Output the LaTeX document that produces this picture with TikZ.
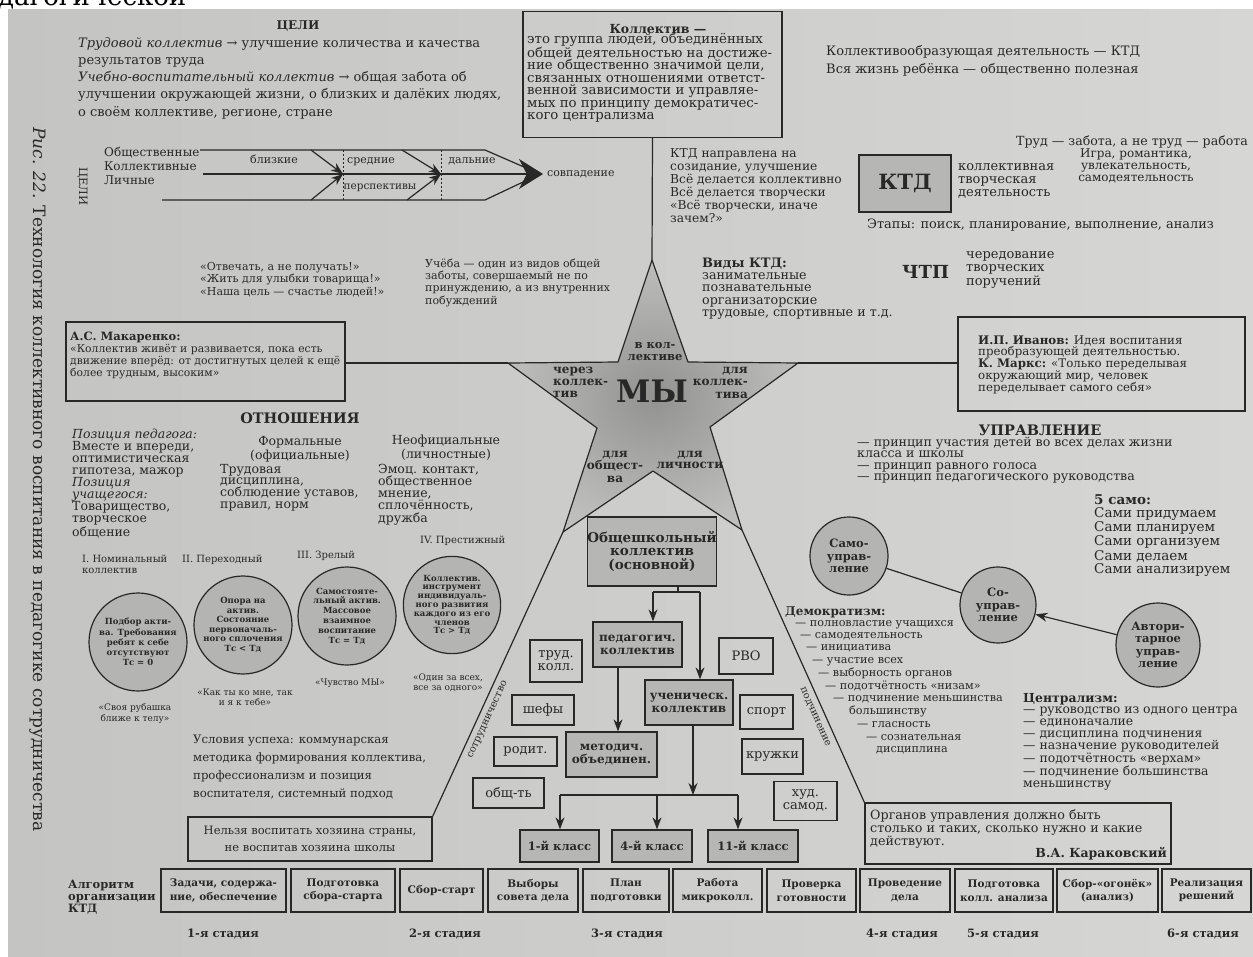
\documentclass[tikz,border=0pt]{standalone}
\usepackage{fontspec}
\setmainfont{DejaVu Serif}
\usetikzlibrary{arrows.meta}

\definecolor{paperA}{RGB}{196,196,194}
\definecolor{paperB}{RGB}{214,214,212}
\definecolor{ink}{RGB}{40,40,40}
\definecolor{starIn}{RGB}{146,146,144}
\definecolor{starOut}{RGB}{190,190,188}
\definecolor{discfill}{RGB}{180,180,178}
\definecolor{boxfill}{RGB}{182,182,180}

\newcommand{\fsz}[2]{\fontsize{#1}{#2}\selectfont}

% multi-line nodes are placed by the baseline of their last line
\tikzset{
  txt/.style={anchor=base west, inner sep=0pt, align=left, text=ink},
  ctr/.style={anchor=base, inner sep=0pt, align=center, text=ink},
  rtx/.style={anchor=base east, inner sep=0pt, align=right, text=ink},
  cbox/.style={draw=ink, line width=1.3pt, inner sep=0pt, align=center, text=ink},
  gbox/.style={cbox, fill=boxfill},
  link/.style={draw=ink, line width=1.2pt},
  arr/.style={link, -{Stealth[length=12pt,width=9pt]}},
  disc/.style={circle, draw=ink, line width=1.2pt, fill=discfill, inner sep=0pt, align=center, text=ink},
  algo/.style={cbox, minimum height=43pt, font=\bfseries\fsz{10.5}{13.5}},
  stage/.style={anchor=base, inner sep=0pt, text=ink, font=\bfseries\fsz{11.5}{12}},
  sidebox/.style={cbox, font=\fsz{13}{13}},
  classbox/.style={gbox, minimum height=32pt, font=\bfseries\fsz{11.5}{12}},
  treebox/.style={gbox, minimum height=45pt, font=\bfseries\fsz{12}{13}},
}

\begin{document}
\begin{tikzpicture}[x=1pt,y=-1pt]
\useasboundingbox (0,0) rectangle (1253,956);

% page
\fill[white] (0,0) rectangle (1253,956);
\shade[left color=paperA, right color=paperB] (8,9) rectangle (1253,956);

% running head, cut by the page edge
\begin{scope}
  \clip (0,0) rectangle (1253,9);
  \node[txt, font=\fsz{26}{26}, text=black] (head) at (-2,5) {дагогической};
\end{scope}

% vertical caption
\node[anchor=base west, rotate=-90, inner sep=0pt, text=ink, font=\fsz{17}{17}] (cap) at (33,127)
  {\textit{Рис. 22.} Технология коллективного воспитания в педагогике сотрудничества};

% ---------------- goals ----------------
\node[ctr, font=\bfseries\fsz{12}{12}] (goalhead) at (298,29) {ЦЕЛИ};
\node[txt, font=\fsz{13}{17.3}] (goals) at (78,116.2)
  {\textit{Трудовой коллектив} → улучшение количества и качества\\
   результатов труда\\
   \textit{Учебно-воспитательный коллектив} → общая забота об\\
   улучшении окружающей жизни, о близких и далёких людях,\\
   о своём коллективе, регионе, стране};

% perspective arrow
\node[anchor=base west, rotate=-90, inner sep=0pt, text=ink, font=\fsz{11.5}{12}] (goalv) at (79,167) {ЦЕЛИ};
\node[txt, font=\fsz{12}{14}] (levels) at (104,184) {Общественные\\Коллективные\\Личные};
\coordinate (ftip) at (540,174);
\draw[link] (200,150) -- (485,150) -- (ftip);
\draw[link] (162,200) -- (485,200) -- (ftip);
\draw[link, -{Stealth[length=24pt,width=30pt]}] (203,174) -- (543,174);
\draw[ink, line width=0.8pt, dash pattern=on 2pt off 2pt] (343,150) -- (343,200);
\draw[ink, line width=0.8pt, dash pattern=on 2pt off 2pt] (441,150) -- (441,200);
\draw[arr] (311,150) -- (343,174);
\draw[arr] (311,200) -- (343,174);
\draw[arr] (402,150) -- (441,174);
\draw[arr] (407,200) -- (441,174);
\node[ctr, font=\fsz{11}{11}] (near) at (274,163) {близкие};
\node[ctr, font=\fsz{11}{11}] (mid) at (371,163) {средние};
\node[ctr, font=\fsz{11}{11}] (far) at (472,163) {дальние};
\node[ctr, font=\fsz{10.5}{11}] (persp) at (380,189) {перспективы};
\node[txt, font=\fsz{11}{11}] (match) at (547,176) {совпадение};

% slogans
\node[txt, font=\fsz{11}{12.5}] (slog) at (200,295)
  {«Отвечать, а не получать!»\\«Жить для улыбки товарища!»\\«Наша цель — счастье людей!»};
\node[txt, font=\fsz{11}{12.4}] (study) at (425,304.2)
  {Учёба — один из видов общей\\заботы, совершаемый не по\\принуждению, а из внутренних\\побуждений};

% ---------------- definition ----------------
\node[cbox, minimum width=259pt, minimum height=126pt] (kol) at (652.5,74.5) {};
\node[ctr, font=\bfseries\fsz{12.5}{12.5}] (koltitle) at (658,33) {Коллектив —};
\node[txt, font=\fsz{13.3}{12.4}] (koltext) at (527,119.4)
  {это группа людей, объединённых\\
   общей деятельностью на достиже-\\
   ние общественно значимой цели,\\
   связанных отношениями ответст-\\
   венной зависимости и управляе-\\
   мых по принципу демократичес-\\
   кого централизма};

% ---------------- KTD ----------------
\node[txt, font=\fsz{13}{18.5}] (ktdform) at (826,73.5)
  {Коллективообразующая деятельность — КТД\\Вся жизнь ребёнка — общественно полезная};
\node[txt, font=\fsz{12.6}{12}] (labour) at (1016,145) {Труд — забота, а не труд — работа};
\node[ctr, font=\fsz{12}{12.3}] (game) at (1136,181.6) {Игра, романтика,\\увлекательность,\\самодеятельность};
\node[gbox, minimum width=92pt, minimum height=57pt, font=\bfseries\fsz{21}{21}] (ktd) at (905,183.5) {КТД};
\node[txt, font=\fsz{13}{13}] (ktdname) at (958,196) {коллективная\\творческая\\деятельность};
\node[txt, font=\fsz{12.9}{12.5}] (ktdstages) at (867,228) {Этапы: поиск, планирование, выполнение, анализ};
\node[txt, font=\fsz{12.2}{13}] (ktdaim) at (670,222)
  {КТД направлена на\\созидание, улучшение\\Всё делается коллективно\\Всё делается творчески\\«Всё творчески, иначе\\зачем?»};
\node[txt, font=\fsz{12.7}{12.4}] (ktdkinds) at (702,316.6)
  {\textbf{\fsz{13}{12.4}Виды КТД:}\\занимательные\\познавательные\\организаторские\\трудовые, спортивные и т.д.};
\node[txt, font=\bfseries\fsz{18}{18}] (chtp) at (902,278) {ЧТП};
\node[txt, font=\fsz{13}{13.5}] (chtptext) at (966,285) {чередование\\творческих\\поручений};

% ---------------- star ----------------
\coordinate (sT) at (652,260);
\coordinate (sIUR) at (688,362);
\coordinate (sR) at (798,363);
\coordinate (sILR) at (710,427);
\coordinate (sLR) at (742,530);
\coordinate (sIB) at (653,471);
\coordinate (sLL) at (563,532);
\coordinate (sILL) at (597,428);
\coordinate (sL) at (508,363);
\coordinate (sIUL) at (618,362);
\shade[inner color=starIn, outer color=starOut]
  (sT) -- (sIUR) -- (sR) -- (sILR) -- (sLR) -- (sIB) -- (sLL) -- (sILL) -- (sL) -- (sIUL) -- cycle;
\draw[link, line join=round]
  (sT) -- (sIUR) -- (sR) -- (sILR) -- (sLR) -- (sIB) -- (sLL) -- (sILL) -- (sL) -- (sIUL) -- cycle;
\node[ctr, font=\bfseries\fsz{11.5}{12}] (sin) at (655,360) {в кол-\\лективе};
\node[txt, font=\bfseries\fsz{12}{12}] (sthrough) at (553,397) {через\\коллек-\\тив};
\node[ctr, font=\bfseries\fsz{31}{31}] (we) at (652,402) {МЫ};
\node[rtx, font=\bfseries\fsz{12}{12.8}] (sfor) at (748,398.6) {для\\коллек-\\тива};
\node[ctr, font=\bfseries\fsz{12}{12.5}] (ssoc) at (615,482) {для\\общест-\\ва};
\node[ctr, font=\bfseries\fsz{12}{11.5}] (spers) at (690,468.5) {для\\личности};

\draw[link] (kol.south) -- (sT);

% ---------------- quotations ----------------
\node[cbox, minimum width=279pt, minimum height=79pt] (mak) at (205.5,361.5) {};
\node[txt, font=\bfseries\fsz{11.5}{12}] (maktitle) at (70,340) {А.С. Макаренко:};
\node[txt, font=\fsz{10.8}{12}] (maktext) at (70,376)
  {«Коллектив живёт и развивается, пока есть\\движение вперёд: от достигнутых целей к ещё\\более трудным, высоким»};
\draw[link] (mak.east |- sL) -- (sL);

\node[cbox, minimum width=287pt, minimum height=94pt] (iva) at (1101.5,364) {};
\node[txt, font=\fsz{11.8}{11.8}] (ivatext) at (978,391.2)
  {\textbf{И.П. Иванов:} Идея воспитания\\преобразующей деятельностью.\\\textbf{К. Маркс:} «Только переделывая\\окружающий мир, человек\\переделывает самого себя»};
\draw[link] (sR) -- (iva.west |- sR);

% ---------------- management ----------------
\node[ctr, font=\bfseries\fsz{14.5}{14.5}] (mgmt) at (1040,435) {УПРАВЛЕНИЕ};
\node[txt, font=\fsz{12.6}{11.6}] (mgmttext) at (857,480.8)
  {— принцип участия детей во всех делах жизни\\класса и школы\\— принцип равного голоса\\— принцип педагогического руководства};

\node[txt, font=\fsz{13.5}{13}] (five) at (1094,573)
  {\textbf{5 само:}\\Сами придумаем\\Сами планируем\\Сами организуем\\Сами делаем\\Сами анализируем};

\node[disc, minimum size=78pt, font=\bfseries\fsz{11.5}{12.5}] (samo) at (849,556) {Само-\\управ-\\ление};
\node[disc, minimum size=76pt, font=\bfseries\fsz{11.5}{12.5}] (so) at (998,605) {Со-\\управ-\\ление};
\node[disc, minimum size=84pt, font=\bfseries\fsz{11.5}{12.5}] (avt) at (1158,645) {Автори-\\тарное\\управ-\\ление};
\draw[link] (samo) -- (so);
\draw[arr] (avt) -- (so);

\node[txt, font=\bfseries\fsz{12}{12}] (demo) at (785,615) {Демократизм:};
\node[txt, font=\fsz{11.2}{11}] (d1) at (795,626) {— полновластие учащихся};
\node[txt, font=\fsz{11.2}{11}] (d2) at (800,638) {— самодеятельность};
\node[txt, font=\fsz{11.2}{11}] (d3) at (806,650) {— инициатива};
\node[txt, font=\fsz{11.2}{11}] (d4) at (812,663) {— участие всех};
\node[txt, font=\fsz{11.2}{11}] (d5) at (818,676) {— выборность органов};
\node[txt, font=\fsz{11.2}{11}] (d6) at (825,689) {— подотчётность «низам»};
\node[txt, font=\fsz{11.2}{11}] (d7) at (833,701) {— подчинение меньшинства};
\node[txt, font=\fsz{11.2}{11}] (d8) at (849,714) {большинству};
\node[txt, font=\fsz{11.2}{11}] (d9) at (857,727) {— гласность};
\node[txt, font=\fsz{11.2}{11}] (d10) at (866,740) {— сознательная};
\node[txt, font=\fsz{11.2}{11}] (d11) at (876,752) {дисциплина};

\node[txt, font=\fsz{12.4}{11.8}] (central) at (1023,787.6)
  {\textbf{Централизм:}\\— руководство из одного центра\\— единоначалие\\— дисциплина подчинения\\— назначение руководителей\\— подотчётность «верхам»\\— подчинение большинства\\меньшинству};

\node[cbox, minimum width=306pt, minimum height=61pt] (org) at (1018,833.5) {};
\node[txt, font=\fsz{12.7}{13}] (orgtext) at (870,845)
  {Органов управления должно быть\\столько и таких, сколько нужно и какие\\действуют.};
\node[rtx, font=\bfseries\fsz{12.5}{12.5}] (karak) at (1167,857) {В.А. Караковский};
\draw[link] (sLR) -- (org.north west);
\node[rotate=-66.1, inner sep=0pt, text=ink, font=\fsz{10}{10}] (subord) at (815,717) {подчинение};

% ---------------- relations ----------------
\node[ctr, font=\bfseries\fsz{14.5}{14.5}] (rel) at (300,423) {ОТНОШЕНИЯ};
\node[txt, font=\fsz{12.5}{12}] (pos) at (72,536)
  {\textit{Позиция педагога:}\\Вместе и впереди,\\оптимистическая\\гипотеза, мажор\\\textit{Позиция}\\\textit{учащегося:}\\Товарищество,\\творческое\\общение};
\node[ctr, font=\fsz{12.5}{11}] (formal) at (300,459) {Формальные\\(официальные)};
\node[txt, font=\fsz{12.5}{11.8}] (formaltext) at (220,508.4) {Трудовая\\дисциплина,\\соблюдение уставов,\\правил, норм};
\node[ctr, font=\fsz{12.5}{11}] (inform) at (446,458) {Неофициальные\\(личностные)};
\node[txt, font=\fsz{12.5}{12.3}] (informtext) at (378,522.2) {Эмоц. контакт,\\общественное\\мнение,\\сплочённость,\\дружба};

% ---------------- stages of a collective ----------------
\node[txt, font=\fsz{10}{11.5}] (st1) at (82,573.5) {I. Номинальный\\коллектив};
\node[txt, font=\fsz{10}{11.5}] (st2) at (182,562) {II. Переходный};
\node[txt, font=\fsz{10}{11.5}] (st3) at (297,558) {III. Зрелый};
\node[txt, font=\fsz{10}{11.5}] (st4) at (420,543) {IV. Престижный};

\node[disc, minimum size=98pt, font=\bfseries\fsz{8.5}{10.2}] (c1) at (138,642)
  {Подбор акти-\\ва. Требования\\ребят к себе\\отсутствуют\\Тс = 0};
\node[disc, minimum size=98pt, font=\bfseries\fsz{8.5}{9.6}] (c2) at (243,625)
  {Опора на\\актив.\\Состояние\\первоначаль-\\ного сплочения\\Тс < Тд};
\node[disc, minimum size=98pt, font=\bfseries\fsz{8.5}{9.8}] (c3) at (347,616)
  {Самостояте-\\льный актив.\\Массовое\\взаимное\\воспитание\\Тс = Тд};
\node[disc, minimum size=96pt, font=\bfseries\fsz{8.5}{8.8}] (c4) at (452,605)
  {Коллектив.\\инструмент\\индивидуаль-\\ного развития\\каждого из его\\членов\\Тс > Тд};

\node[ctr, font=\fsz{9}{11}] (q1) at (135,721) {«Своя рубашка\\ближе к телу»};
\node[ctr, font=\fsz{9}{10.5}] (q2) at (245,705.5) {«Как ты ко мне, так\\и я к тебе»};
\node[ctr, font=\fsz{9}{10.5}] (q3) at (350,685) {«Чувство МЫ»};
\node[ctr, font=\fsz{9}{10.5}] (q4) at (448,690.5) {«Один за всех,\\все за одного»};

\node[txt, font=\fsz{11.7}{18}] (success) at (193,797)
  {Условия успеха: коммунарская\\методика формирования коллектива,\\профессионализм и позиция\\воспитателя, системный подход};

\node[cbox, minimum width=244pt, minimum height=44pt] (nel) at (310,839) {};
\node[ctr, font=\fsz{11.5}{17}] (neltext) at (310,851) {Нельзя воспитать хозяина страны,\\не воспитав хозяина школы};
\draw[link] (sLL) -- (nel.north east);
\node[rotate=65.3, inner sep=0pt, text=ink, font=\fsz{10}{10}] (coop) at (488,720) {сотрудничество};

% ---------------- school collective ----------------
\node[gbox, minimum width=126pt, minimum height=69pt, font=\bfseries\fsz{13.5}{13.5}] (obs) at (652,551.5) {Общешкольный\\коллектив\\(основной)};
\node[treebox, minimum width=89pt] (ped) at (637.5,644.5) {педагогич.\\коллектив};
\node[treebox, minimum width=91pt] (met) at (611.5,754.5) {методич.\\объединен.};
\node[treebox, minimum width=88pt] (uch) at (689,702.5) {ученическ.\\коллектив};
\node[classbox, minimum width=79pt] (k1) at (559.5,846) {1-й класс};
\node[classbox, minimum width=80pt] (k4) at (652,846) {4-й класс};
\node[classbox, minimum width=90pt] (k11) at (753,846) {11-й класс};

\coordinate (fa) at (678,592);
\coordinate (fl) at (653,592);
\coordinate (fr) at (700,592);
\draw[link] (obs.south -| fa) -- (fa);
\draw[link] (fl) -- (fr);
\draw[arr] (fl) -- (fl |- ped.north);
\draw[arr] (fr) -- (fr |- uch.north);
\coordinate (xp) at (618,0);
\draw[arr] (ped.south -| xp) -- (met.north -| xp);
\coordinate (bus) at (693,795);
\coordinate (b1) at (560,795);
\coordinate (b4) at (657,795);
\coordinate (b11) at (738,795);
\draw[arr] (uch.south -| bus) -- (bus);
\draw[link] (b1) -- (b11);
\draw[arr] (b1) -- (b1 |- k1.north);
\draw[arr] (b4) -- (b4 |- k4.north);
\draw[arr] (b11) -- (b11 |- k11.north);

\node[sidebox, minimum width=52pt, minimum height=42pt] (trud) at (556,661) {труд.\\колл.};
\node[sidebox, minimum width=62pt, minimum height=30pt] (shef) at (543,710) {шефы};
\node[sidebox, minimum width=63pt, minimum height=29pt] (rod) at (525.5,751.5) {родит.};
\node[sidebox, minimum width=71pt, minimum height=30pt] (obsh) at (508.5,793) {общ-ть};
\node[sidebox, minimum width=54pt, minimum height=36pt] (rvo) at (746,656) {РВО};
\node[sidebox, minimum width=53pt, minimum height=34pt] (sport) at (766.5,712) {спорт};
\node[sidebox, minimum width=61pt, minimum height=35pt] (kruzh) at (772.5,756.5) {кружки};
\node[sidebox, minimum width=63pt, minimum height=39pt] (hud) at (805.5,801) {худ.\\самод.};

% ---------------- KTD algorithm ----------------
\node[txt, font=\bfseries\fsz{11.5}{12}] (algtitle) at (68,912) {Алгоритм\\организации\\КТД};
\node[algo, minimum width=125pt] (a1) at (223.5,890.5) {Задачи, содержа-\\ние, обеспечение};
\node[algo, minimum width=104pt] (a2) at (343,890.5) {Подготовка\\сбора-старта};
\node[algo, minimum width=83pt] (a3) at (441.5,890.5) {Сбор-старт};
\node[algo, minimum width=90pt] (a4) at (533,890.5) {Выборы\\совета дела};
\node[algo, minimum width=86pt] (a5) at (626,890.5) {План\\подготовки};
\node[algo, minimum width=89pt] (a6) at (717.5,890.5) {Работа\\микроколл.};
\node[algo, minimum width=89pt] (a7) at (811.5,890.5) {Проверка\\готовности};
\node[algo, minimum width=90pt] (a8) at (905,890.5) {Проведение\\дела};
\node[algo, minimum width=98pt] (a9) at (1004,890.5) {Подготовка\\колл. анализа};
\node[algo, minimum width=101pt] (a10) at (1107.5,890.5) {Сбор-«огонёк»\\(анализ)};
\node[algo, minimum width=89pt] (a11) at (1206.5,890.5) {Реализация\\решений};

\node[stage] (g1) at (223,937) {1-я стадия};
\node[stage] (g2) at (445,937) {2-я стадия};
\node[stage] (g3) at (627,937) {3-я стадия};
\node[stage] (g4) at (902,937) {4-я стадия};
\node[stage] (g5) at (1003,937) {5-я стадия};
\node[stage] (g6) at (1203,937) {6-я стадия};

\end{tikzpicture}
\end{document}
